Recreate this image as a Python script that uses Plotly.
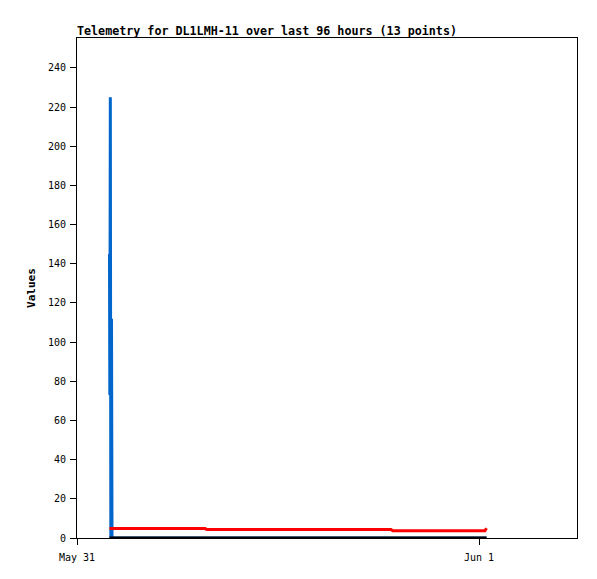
import plotly.graph_objects as go
from datetime import datetime, timedelta

base = datetime(2023, 5, 31)
hours = [1.94, 1.96, 1.99, 2.02, 2.06, 2.09, 7.65, 7.75, 13.0, 18.75, 18.85, 24.35, 24.45]
times = [base + timedelta(hours=h) for h in hours]

blue_vals = [145, 73, 225, 0, 112, 0, 0, 0, 0, 0, 0, 0, 0]
red_vals = [4.8, 4.8, 4.8, 4.8, 4.8, 4.8, 4.8, 4.3, 4.3, 4.3, 3.7, 3.7, 5.0]
black_vals = [0] * 13

tick_vals = [datetime(2023, 5, 31), datetime(2023, 6, 1)]
tick_text = ["May 31", "Jun 1"]
y_ticks = list(range(0, 241, 20))

fig = go.Figure()
fig.add_trace(go.Scatter(x=times, y=blue_vals, mode="lines",
                         line=dict(color="#0066CC", width=3), showlegend=False))
fig.add_trace(go.Scatter(x=times, y=red_vals, mode="lines",
                         line=dict(color="#FF0000", width=3), showlegend=False))
fig.add_trace(go.Scatter(x=times, y=black_vals, mode="lines",
                         line=dict(color="#000000", width=3), showlegend=False))

font = "DejaVu Sans Mono"
W, H = 589, 571
fig.update_layout(
    width=W, height=H,
    margin=dict(l=69, r=20, t=30, b=41),
    paper_bgcolor="white", plot_bgcolor="white",
    font=dict(family=font, size=10, color="black"),
    title=dict(text="<b>Telemetry for DL1LMH-11 over last 96 hours (13 points)</b>",
               x=69 / W, xanchor="left", y=1 - 23 / H, yanchor="middle",
               font=dict(family=font, size=11.7, color="black")),
    xaxis=dict(range=[base, base + timedelta(hours=500 / 16.75)],
               tickvals=tick_vals, ticktext=tick_text,
               showgrid=False, zeroline=False, automargin=False,
               showline=True, linecolor="black", linewidth=1, mirror=True,
               ticks="outside", ticklen=6, tickcolor="black",
               ticklabelstandoff=4,
               tickfont=dict(family=font, size=10)),
    yaxis=dict(range=[0, 255.3], tickvals=y_ticks,
               showgrid=False, zeroline=False, automargin=False,
               showline=True, linecolor="black", linewidth=1, mirror=True,
               ticks="outside", ticklen=6, tickcolor="black",
               ticklabelstandoff=2,
               tickfont=dict(family=font, size=10),
               title=dict(text="<b>Values</b>", standoff=10,
                          font=dict(family=font, size=11))),
)

fig.write_html("out.html")
